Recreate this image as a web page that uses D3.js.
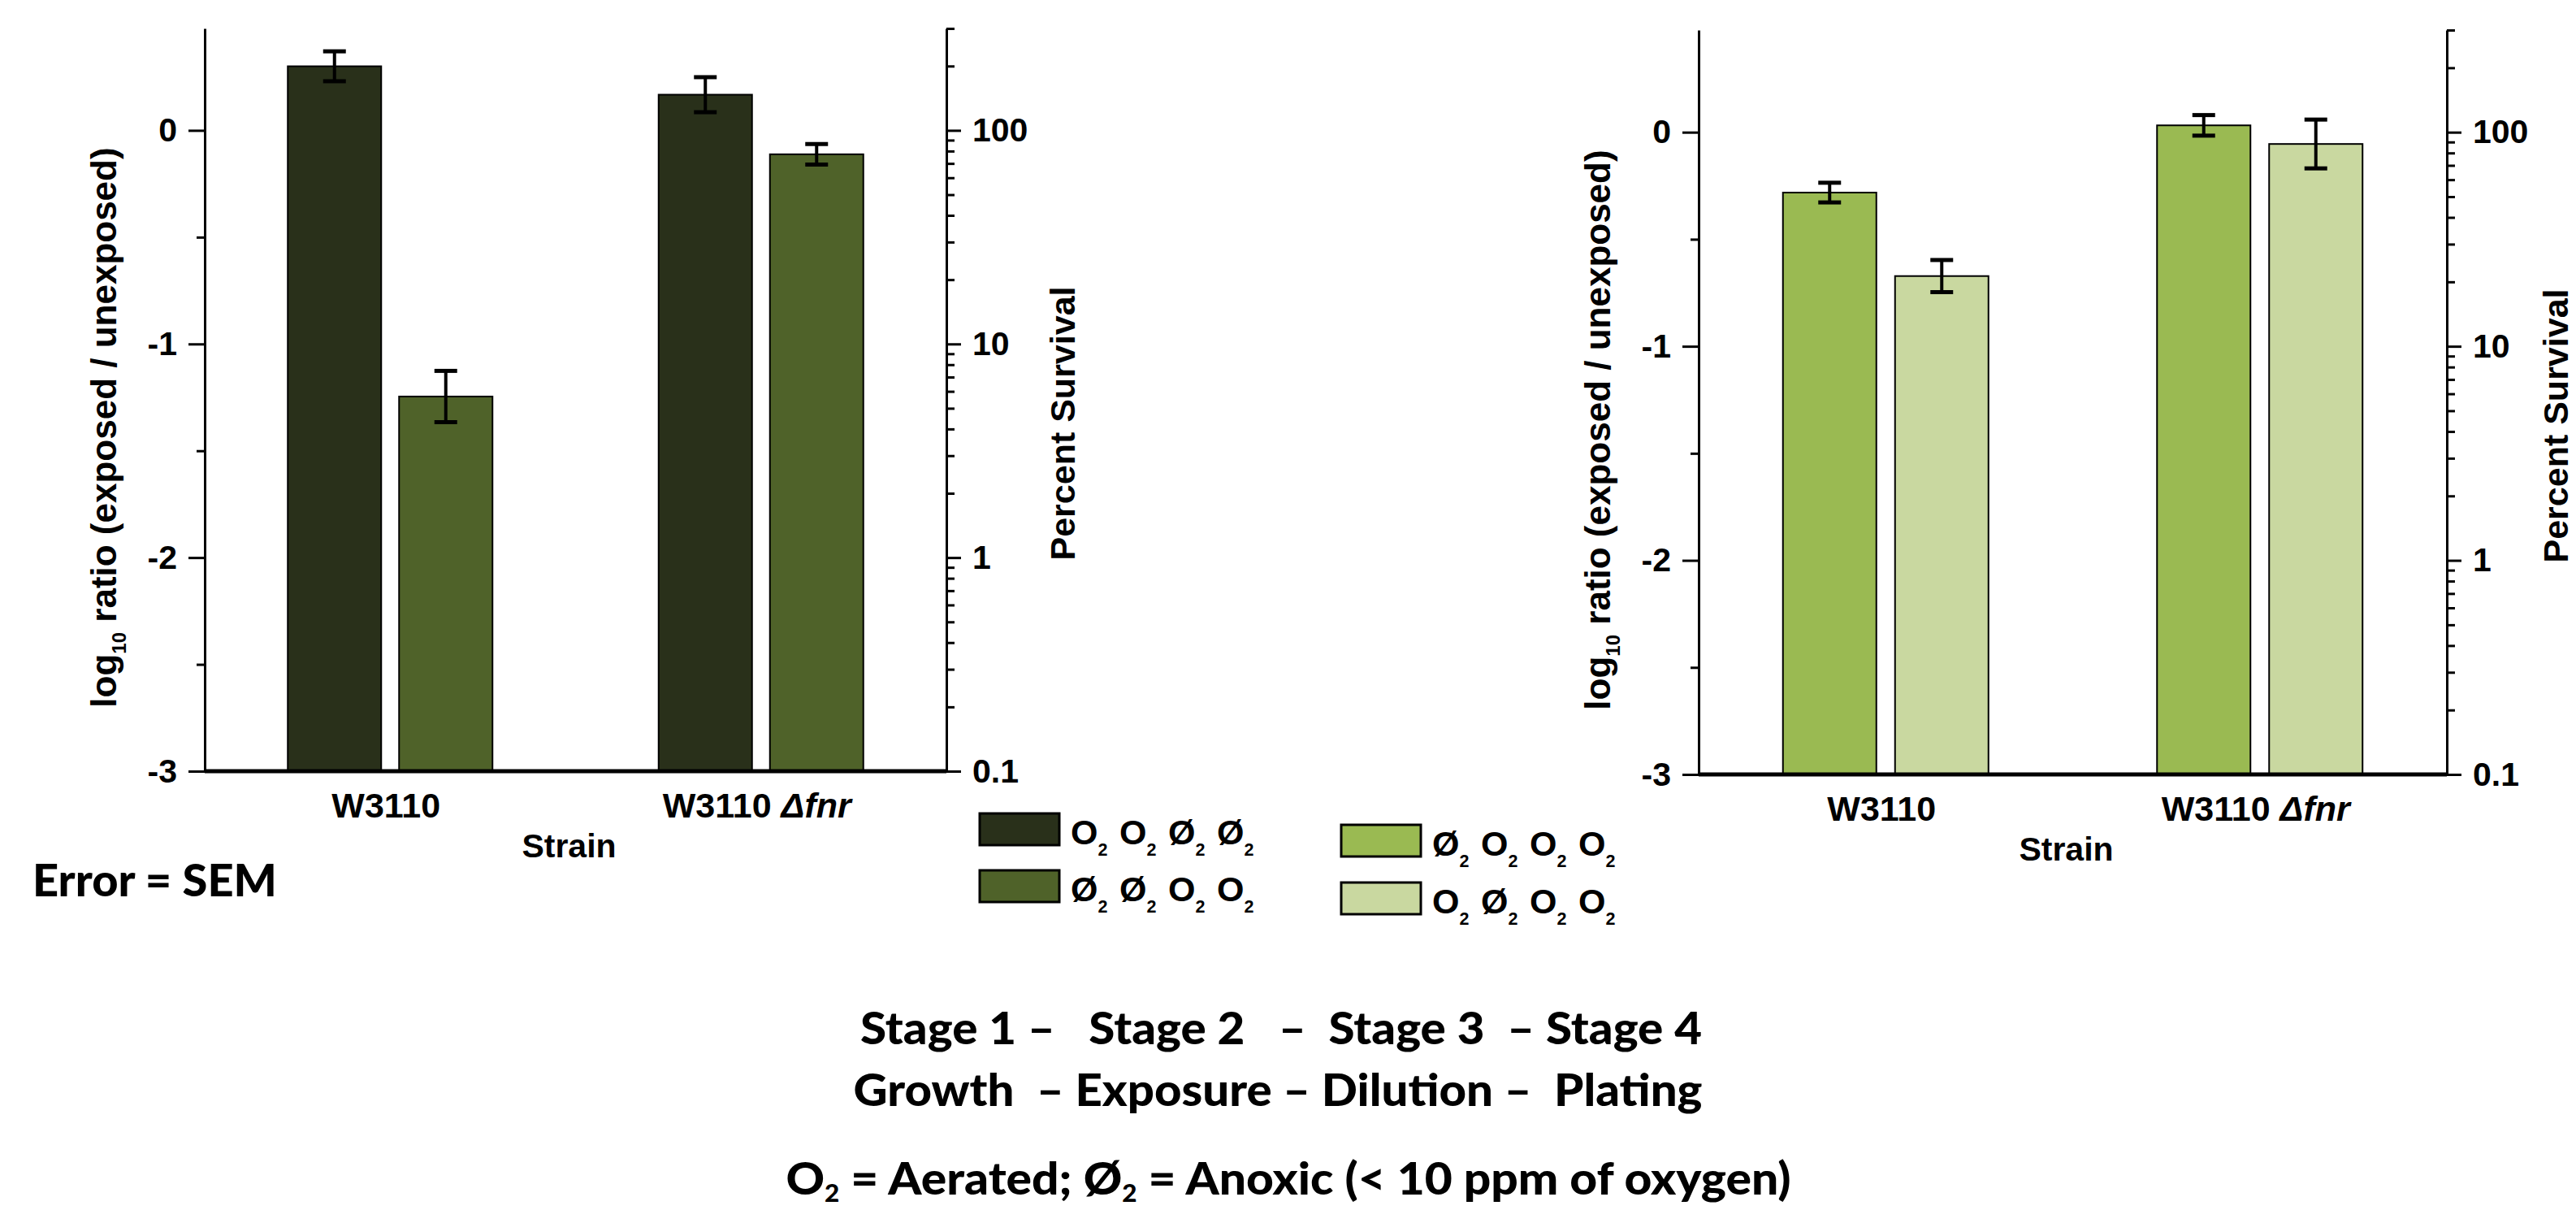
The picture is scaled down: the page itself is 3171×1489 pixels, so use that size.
<!DOCTYPE html>
<html>
<head>
<meta charset="utf-8">
<script src="https://cdn.jsdelivr.net/npm/d3@7"></script>
<style>
  html, body { margin: 0; padding: 0; background: #ffffff; }
  svg { display: block; }
  .chart text { font-family: "Liberation Sans", Arial, sans-serif; font-weight: bold; fill: #000; }
  .note text { font-family: Lato, "Open Sans", sans-serif; font-weight: 900; fill: #000; white-space: pre; }
</style>
</head>
<body>
<script>
// ---------------- data ----------------
const strains = ["W3110", "W3110 Δfnr"];

const leftSeries = ["O2 O2 Ø2 Ø2", "Ø2 Ø2 O2 O2"];
const leftValuesA = [0.300, 0.167];     // log10 ratio, O2 O2 Ø2 Ø2
const leftErrorsA = [0.070, 0.082];
const leftValuesB = [-1.246, -0.112];   // Ø2 Ø2 O2 O2
const leftErrorsB = [0.120, 0.048];

const rightSeries = ["Ø2 O2 O2 O2", "O2 Ø2 O2 O2"];
const rightValuesA = [-0.282, 0.032];   // Ø2 O2 O2 O2
const rightErrorsA = [0.046, 0.048];
const rightValuesB = [-0.672, -0.055];  // O2 Ø2 O2 O2
const rightErrorsB = [0.075, 0.114];

const logTicks = [-3, -2, -1, 0];
const logMinorTicks = [-2.5, -1.5, -0.5];
const logDomain = [-3, Math.log10(3)];
const survivalTicks = [0.1, 1, 10, 100];
const survivalMinorTicks = [0.2,0.3,0.4,0.5,0.6,0.7,0.8,0.9,2,3,4,5,6,7,8,9,20,30,40,50,60,70,80,90,200,300];
const survivalDomain = [0.1, 300];

const leftColors = ["#29301a", "#4f6229"];
const rightColors = ["#9aba52", "#c9d8a0"];

const noteLines = [
  "Stage 1 –   Stage 2   –  Stage 3  – Stage 4",
  "Growth  – Exposure – Dilution –  Plating"
];

// ---------------- drawing ----------------
const W = 3171, H = 1489;
const svg = d3.select("body").append("svg")
  .attr("width", W).attr("height", H)
  .attr("viewBox", `0 0 ${W} ${H}`);
svg.append("rect").attr("width", W).attr("height", H).attr("fill", "#fff");

const chart = svg.append("g").attr("class", "chart");

// token renderer for "O2 Ø2 ..." with subscripts
function drawOxygenTokens(g, label, x0, baseline, step, size) {
  const tokens = label.split(" ");
  tokens.forEach((tok, i) => {
    const t = g.append("text")
      .attr("x", x0 + i * step).attr("y", baseline)
      .attr("font-size", size);
    t.append("tspan").text(tok.slice(0, -1));
    t.append("tspan").attr("font-size", size * 0.5).attr("dy", size * 0.32).text(tok.slice(-1));
  });
}

function drawPanel(cfg) {
  const g = chart.append("g");
  const y = d3.scaleLinear().domain(logDomain).range([cfg.bottom, cfg.top]);
  const yR = d3.scaleLog().domain(survivalDomain).range([cfg.bottom, cfg.top]);
  const x0 = d3.scaleBand().domain(strains).range([cfg.left, cfg.right]);
  const half = cfg.barW + cfg.gap / 2;
  const x1 = d3.scaleBand().domain([0, 1])
    .range([x0.bandwidth() / 2 - half, x0.bandwidth() / 2 + half])
    .paddingInner(cfg.gap / (cfg.barW + cfg.gap));

  const series = [
    { vals: cfg.valsA, errs: cfg.errsA, color: cfg.colors[0] },
    { vals: cfg.valsB, errs: cfg.errsB, color: cfg.colors[1] }
  ];

  // bars
  series.forEach((s, si) => {
    g.selectAll(null).data(strains).enter().append("rect")
      .attr("x", d => x0(d) + x1(si))
      .attr("width", x1.bandwidth())
      .attr("y", (d, i) => y(s.vals[i]))
      .attr("height", (d, i) => y(logDomain[0]) - y(s.vals[i]))
      .attr("fill", s.color)
      .attr("stroke", "#000").attr("stroke-width", 2);
  });

  // error bars
  series.forEach((s, si) => {
    strains.forEach((d, i) => {
      const cx = x0(d) + x1(si) + x1.bandwidth() / 2;
      const yt = y(s.vals[i] + s.errs[i]), yb = y(s.vals[i] - s.errs[i]);
      g.append("line").attr("x1", cx).attr("x2", cx).attr("y1", yt).attr("y2", yb)
        .attr("stroke", "#000").attr("stroke-width", 4);
      [yt, yb].forEach(yy => g.append("line")
        .attr("x1", cx - 14).attr("x2", cx + 14).attr("y1", yy).attr("y2", yy)
        .attr("stroke", "#000").attr("stroke-width", 5));
    });
  });

  // left axis
  g.append("g").attr("transform", `translate(${cfg.left},0)`)
    .call(d3.axisLeft(y).tickValues(logTicks).tickSize(20).tickSizeOuter(0).tickPadding(14)
      .tickFormat(d => String(d)));
  g.append("g").attr("transform", `translate(${cfg.left},0)`)
    .call(d3.axisLeft(y).tickValues(logMinorTicks).tickSize(10).tickSizeOuter(0).tickFormat(""))
    .select(".domain").remove();

  // right axis
  g.append("g").attr("transform", `translate(${cfg.right},0)`)
    .call(d3.axisRight(yR).tickValues(survivalTicks).tickSize(18).tickSizeOuter(0).tickPadding(14)
      .tickFormat(d => d < 1 ? "0.1" : String(d)));
  g.append("g").attr("transform", `translate(${cfg.right},0)`)
    .call(d3.axisRight(yR).tickValues(survivalMinorTicks).tickSize(10).tickSizeOuter(0).tickFormat(""))
    .select(".domain").remove();

  g.selectAll(".domain").attr("stroke", "#000").attr("stroke-width", 3);
  g.selectAll(".tick line").attr("stroke", "#000").attr("stroke-width", 3);
  g.selectAll(".tick text").attr("font-size", 41)
    .attr("font-family", "'Liberation Sans', Arial, sans-serif").attr("font-weight", "bold")
    .attr("fill", "#000");

  // bottom axis line
  g.append("line").attr("x1", cfg.left).attr("x2", cfg.right)
    .attr("y1", cfg.bottom).attr("y2", cfg.bottom)
    .attr("stroke", "#000").attr("stroke-width", 5);

  // category labels
  strains.forEach(s => {
    const t = g.append("text")
      .attr("x", x0(s) + x0.bandwidth() / 2 - 5)
      .attr("y", cfg.bottom + 57)
      .attr("text-anchor", "middle").attr("font-size", 43);
    if (s.includes("Δ")) {
      const parts = s.split("Δ");
      t.append("tspan").text(parts[0]);
      t.append("tspan").attr("font-style", "italic").text("Δ" + parts[1]);
    } else {
      t.text(s);
    }
  });

  // x title
  g.append("text").attr("x", (cfg.left + cfg.right) / 2 - 8).attr("y", cfg.bottom + 106)
    .attr("text-anchor", "middle").attr("font-size", 41).text("Strain");

  // y title left
  const yl = g.append("text")
    .attr("transform", `translate(${cfg.left - 109},${(cfg.top + cfg.bottom) / 2 + 34}) rotate(-90)`)
    .attr("text-anchor", "middle").attr("font-size", 44);
  yl.append("tspan").text("log");
  yl.append("tspan").attr("font-size", 24).attr("dy", 12).text("10");
  yl.append("tspan").attr("dy", -12).text(" ratio (exposed / unexposed)");

  // y title right
  g.append("text")
    .attr("transform", `translate(${Math.min(cfg.right + 158, W - 10)},${(cfg.top + cfg.bottom) / 2 + 29}) rotate(-90)`)
    .attr("text-anchor", "middle").attr("font-size", 43).text("Percent Survival");
}

drawPanel({ left: 252, right: 1165, top: 35, bottom: 949, barW: 115, gap: 22,
  valsA: leftValuesA, errsA: leftErrorsA, valsB: leftValuesB, errsB: leftErrorsB, colors: leftColors });
drawPanel({ left: 2091, right: 3012, top: 37, bottom: 953, barW: 115, gap: 23,
  valsA: rightValuesA, errsA: rightErrorsA, valsB: rightValuesB, errsB: rightErrorsB, colors: rightColors });

// legends
const legend = chart.append("g");
function legendBlock(labels, colors, x, y0, rowStep) {
  labels.forEach((lab, i) => {
    const yy = y0 + i * rowStep;
    legend.append("rect").attr("x", x).attr("y", yy).attr("width", 98).attr("height", 39)
      .attr("fill", colors[i]).attr("stroke", "#000").attr("stroke-width", 3);
    drawOxygenTokens(legend, lab, x + 112, yy + 38, 60, 43);
  });
}
legendBlock(leftSeries, leftColors, 1206, 1001, 70);
legendBlock(rightSeries, rightColors, 1651, 1015, 71);

// notes
const note = svg.append("g").attr("class", "note");
note.append("text").attr("x", 40).attr("y", 1103).attr("font-size", 56).text("Error = SEM");
note.append("text").attr("x", 1577).attr("y", 1285).attr("text-anchor", "middle")
  .attr("font-size", 56).attr("textLength", 1036).attr("lengthAdjust", "spacingAndGlyphs").text(noteLines[0]);
note.append("text").attr("x", 1573).attr("y", 1361).attr("text-anchor", "middle")
  .attr("font-size", 56).attr("textLength", 1045).attr("lengthAdjust", "spacingAndGlyphs").text(noteLines[1]);
const l3 = note.append("text").attr("x", 1586).attr("y", 1470).attr("text-anchor", "middle")
  .attr("font-size", 56).attr("textLength", 1237).attr("lengthAdjust", "spacingAndGlyphs");
l3.append("tspan").text("O");
l3.append("tspan").attr("font-size", 30).attr("dy", 9).text("2");
l3.append("tspan").attr("dy", -9).text(" = Aerated; Ø");
l3.append("tspan").attr("font-size", 30).attr("dy", 9).text("2");
l3.append("tspan").attr("dy", -9).text(" = Anoxic (< 10 ppm of oxygen)");
</script>
</body>
</html>
